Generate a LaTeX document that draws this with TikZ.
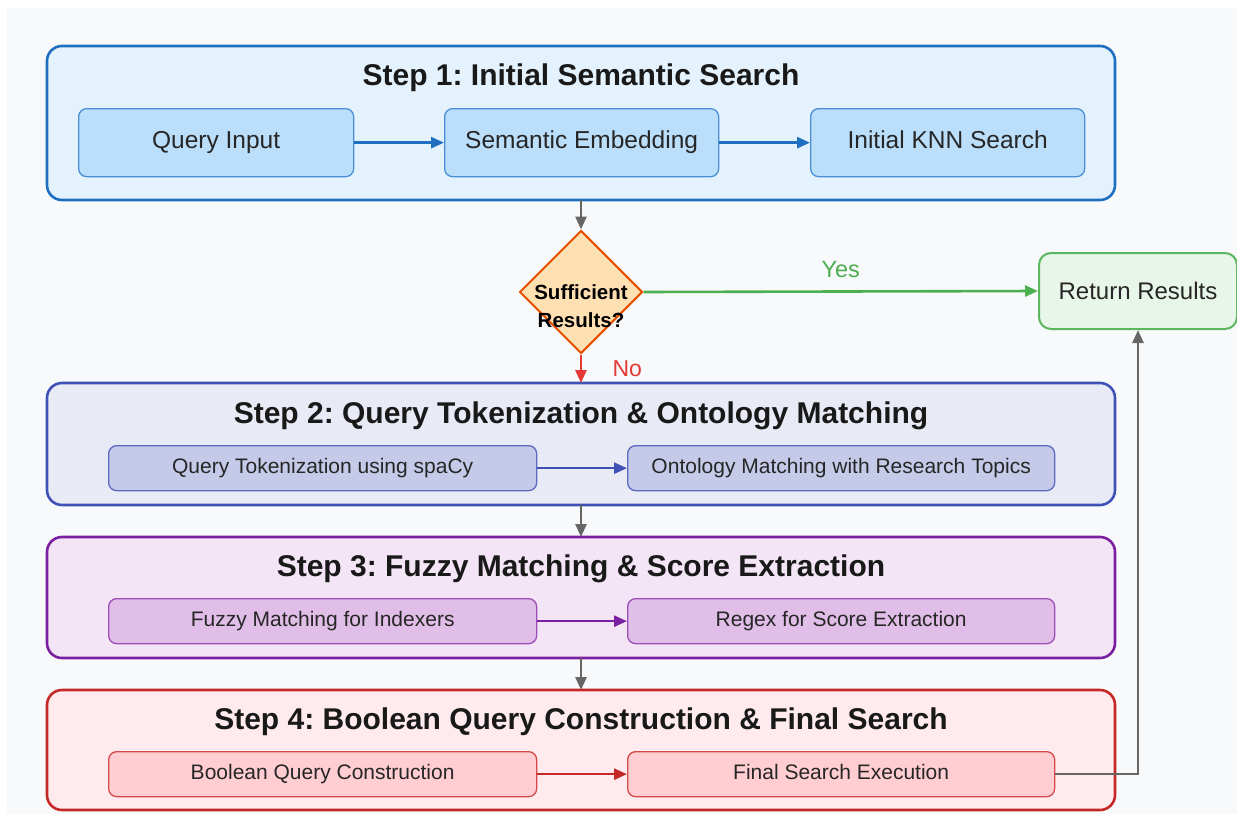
\documentclass[tikz,border=0pt]{standalone}
\usepackage{fontspec}
\setmainfont{Liberation Sans}
\frenchspacing
\usetikzlibrary{arrows.meta,shapes.geometric}
\definecolor{bgc}{HTML}{F8F9FA}
\definecolor{sAfill}{HTML}{E3F2FD}\definecolor{sAdraw}{HTML}{1E6FC0}
\definecolor{iAfill}{HTML}{BBDEFB}\definecolor{iAdraw}{HTML}{4A8FD6}
\definecolor{sBfill}{HTML}{E8EAF6}\definecolor{sBdraw}{HTML}{3F51B5}
\definecolor{iBfill}{HTML}{C5CAE9}\definecolor{iBdraw}{HTML}{5C6BC0}
\definecolor{sCfill}{HTML}{F3E5F5}\definecolor{sCdraw}{HTML}{7B1FA2}
\definecolor{iCfill}{HTML}{E1BEE7}\definecolor{iCdraw}{HTML}{9C4DB8}
\definecolor{sDfill}{HTML}{FFEBEE}\definecolor{sDdraw}{HTML}{C62828}
\definecolor{iDfill}{HTML}{FFCDD2}\definecolor{iDdraw}{HTML}{D24A4A}
\definecolor{dfill}{HTML}{FFE0B2}\definecolor{ddraw}{HTML}{E65100}
\definecolor{gfill}{HTML}{E8F5E9}\definecolor{gdraw}{HTML}{5CB85F}
\definecolor{garrow}{HTML}{666666}
\definecolor{yesc}{HTML}{4CAF50}\definecolor{noc}{HTML}{E53935}
\begin{document}
\begin{tikzpicture}[x=1pt,y=-1pt,
  stepbox/.style={rounded corners=15pt,line width=2.6pt},
  inbox/.style={rounded corners=8pt,line width=1.3pt,inner sep=0pt,anchor=north west},
  ttl/.style={font=\bfseries\fontsize{30}{34}\selectfont,text=black!90,anchor=base},
  btxt/.style={font=\fontsize{24.5}{28}\selectfont,text=black!85,text height=17.6pt,text depth=5.2pt},
  stxt/.style={font=\fontsize{21}{25}\selectfont,text=black!85,text height=15.1pt,text depth=4.4pt},
  arr/.style={line width=2.6pt,-{Triangle[length=13pt,width=11pt]}},
  garr/.style={arr,draw=garrow}
]
\useasboundingbox (0,0) rectangle (1237,814);
\fill[white] (0,0) rectangle (1237,814);
\fill[bgc] (7,8) rectangle (1237,814);

% Step 1
\draw[stepbox,fill=sAfill,draw=sAdraw] (47,46) rectangle (1115,200);
\node[ttl] (t1) at (581,85) {Step 1: Initial Semantic Search};
\node[inbox,fill=iAfill,draw=iAdraw,minimum width=275pt,minimum height=68pt,btxt] (q) at (78,108) {Query Input};
\node[inbox,fill=iAfill,draw=iAdraw,minimum width=274pt,minimum height=68pt,btxt] (se) at (444,108) {Semantic Embedding};
\node[inbox,fill=iAfill,draw=iAdraw,minimum width=274pt,minimum height=68pt,btxt] (knn) at (810,108) {Initial KNN Search};
\draw[arr,draw=sAdraw] (q) -- (se);
\draw[arr,draw=sAdraw] (se) -- (knn);
\coordinate (s1b) at (581,200);

% Decision
\node[diamond,aspect=1,draw=ddraw,fill=dfill,line width=2pt,minimum width=123pt,minimum height=123pt,inner sep=0pt] (dec) at (581,292) {};
\node[font=\bfseries\fontsize{20.5}{28}\selectfont,align=center,text=black] (dq) at (581,306) {Sufficient\\Results?};
\draw[garr] (s1b) -- (dec.north);

% Return Results
\node[rounded corners=12pt,draw=gdraw,fill=gfill,line width=2pt,minimum width=198pt,minimum height=76pt,inner sep=0pt,font=\fontsize{24}{28}\selectfont,text=black!85] (rr) at (1138,291) {Return Results};
\draw[arr,draw=yesc] (dec.east) -- (rr.west) node[midway,above=9pt,text=yesc,font=\fontsize{23.5}{28}\selectfont] {Yes};

% Step 2
\draw[stepbox,fill=sBfill,draw=sBdraw] (47,383) rectangle (1115,505);
\coordinate (s2t) at (581,383);
\node[ttl] (t2) at (581,423) {Step 2: Query Tokenization \& Ontology Matching};
\node[inbox,fill=iBfill,draw=iBdraw,minimum width=428pt,minimum height=45pt,stxt] (tok) at (108,445) {Query Tokenization using spaCy};
\node[inbox,fill=iBfill,draw=iBdraw,minimum width=427pt,minimum height=45pt,stxt] (ont) at (627,445) {Ontology Matching with Research Topics};
\draw[arr,draw=sBdraw] (tok) -- (ont);
\draw[arr,draw=noc] (dec.south) -- (s2t) node[pos=0.5,right=27pt,text=noc,font=\fontsize{23}{28}\selectfont] {No};
\coordinate (s2b) at (581,505);

% Step 3
\draw[stepbox,fill=sCfill,draw=sCdraw] (47,537) rectangle (1115,658);
\coordinate (s3t) at (581,537);
\node[ttl] (t3) at (581,576) {Step 3: Fuzzy Matching \& Score Extraction};
\node[inbox,fill=iCfill,draw=iCdraw,minimum width=428pt,minimum height=45pt,stxt] (fz) at (108,598) {Fuzzy Matching for Indexers};
\node[inbox,fill=iCfill,draw=iCdraw,minimum width=427pt,minimum height=45pt,stxt] (rx) at (627,598) {Regex for Score Extraction};
\draw[arr,draw=sCdraw] (fz) -- (rx);
\draw[garr] (s2b) -- (s3t);
\coordinate (s3b) at (581,658);

% Step 4
\draw[stepbox,fill=sDfill,draw=sDdraw] (47,690) rectangle (1115,810);
\coordinate (s4t) at (581,690);
\node[ttl] (t4) at (581,729) {Step 4: Boolean Query Construction \& Final Search};
\node[inbox,fill=iDfill,draw=iDdraw,minimum width=428pt,minimum height=45pt,stxt] (bq) at (108,751) {Boolean Query Construction};
\node[inbox,fill=iDfill,draw=iDdraw,minimum width=427pt,minimum height=45pt,stxt] (fs) at (627,751) {Final Search Execution};
\draw[arr,draw=sDdraw] (bq) -- (fs);
\draw[garr] (s3b) -- (s4t);

% Return loop
\draw[garr] (fs.east) -- (rr.south |- fs.east) -- (rr.south);
\end{tikzpicture}
\end{document}
